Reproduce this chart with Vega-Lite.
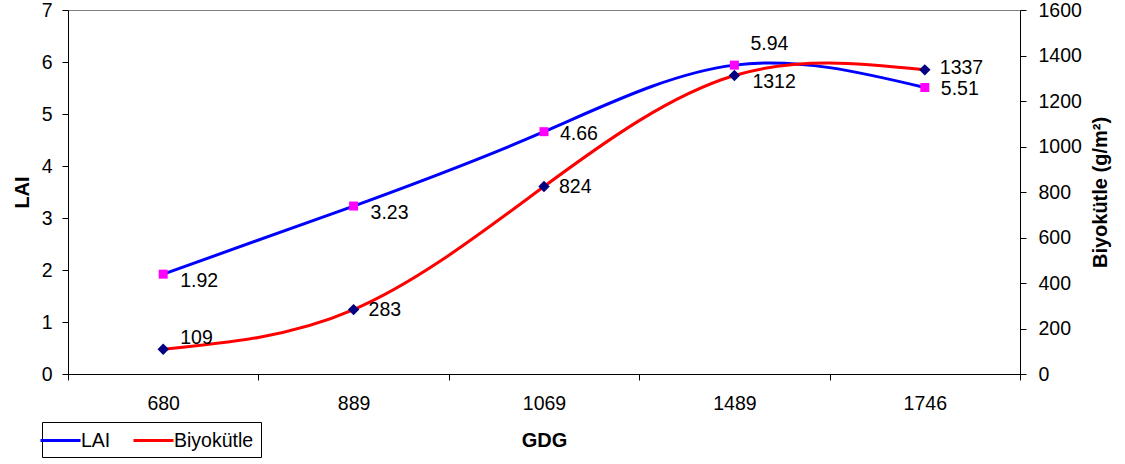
{
  "$schema": "https://vega.github.io/schema/vega-lite/v6.json",
  "width": 952,
  "height": 364,
  "autosize": {"type": "none"},
  "padding": {"left": 68, "top": 10, "right": 105, "bottom": 90},
  "config": {
    "font": "Liberation Sans",
    "view": {"stroke": "#808080", "strokeWidth": 1},
    "axis": {
      "domainColor": "black",
      "tickColor": "black",
      "labelColor": "black",
      "titleColor": "black",
      "labelFontSize": 19.5,
      "titleFontSize": 20,
      "titleFontWeight": "bold",
      "grid": false,
      "labelFont": "Liberation Sans",
      "titleFont": "Liberation Sans",
      "domainWidth": 1,
      "tickWidth": 1
    },
    "legend": {"labelFont": "Liberation Sans"}
  },
  "data": {
    "values": [
      {"GDG": "680", "LAI": 1.92, "Bio": 109},
      {"GDG": "889", "LAI": 3.23, "Bio": 283},
      {"GDG": "1069", "LAI": 4.66, "Bio": 824},
      {"GDG": "1489", "LAI": 5.94, "Bio": 1312},
      {"GDG": "1746", "LAI": 5.51, "Bio": 1337}
    ]
  },
  "encoding": {
    "x": {
      "field": "GDG",
      "type": "ordinal",
      "sort": null,
      "scale": {"type": "band", "paddingInner": 0, "paddingOuter": 0},
      "axis": {
        "title": "GDG",
        "labelAngle": 0,
        "tickBand": "extent",
        "tickSize": 6,
        "labelPadding": 14,
        "titlePadding": 18
      }
    }
  },
  "layer": [
    {
      "encoding": {
        "y": {
          "field": "LAI",
          "type": "quantitative",
          "scale": {"domain": [0, 7], "nice": false},
          "axis": {
            "title": "LAI",
            "values": [0, 1, 2, 3, 4, 5, 6, 7],
            "tickSize": 6,
            "labelPadding": 10,
            "titlePadding": 9
          }
        }
      },
      "layer": [
        {
          "mark": {"type": "line", "interpolate": "natural", "strokeWidth": 3},
          "encoding": {
            "color": {
              "datum": "LAI",
              "type": "nominal",
              "scale": {"domain": ["LAI", "Biyokütle"], "range": ["#0000FF", "#FF0000"]},
              "legend": {
                "title": null,
                "orient": "none",
                "legendX": -26,
                "legendY": 412,
                "direction": "horizontal",
                "symbolType": "M-2,0H2",
                "symbolSize": 400,
                "symbolStrokeWidth": 3,
                "labelFontSize": 19.5,
                "labelColor": "black",
                "labelOffset": 9,
                "columnPadding": 16,
                "padding": 7,
                "strokeColor": "black"
              }
            }
          }
        },
        {
          "mark": {"type": "point", "shape": "square", "filled": true, "size": 81, "color": "#FF00FF", "opacity": 1}
        },
        {
          "transform": [{"filter": {"field": "GDG", "oneOf": ["680", "889"]}}],
          "mark": {"type": "text", "align": "left", "baseline": "middle", "dx": 17, "dy": 7, "fontSize": 19.5, "color": "black"},
          "encoding": {"text": {"field": "LAI", "type": "quantitative", "format": ".2f"}}
        },
        {
          "transform": [{"filter": {"field": "GDG", "oneOf": ["1069", "1746"]}}],
          "mark": {"type": "text", "align": "left", "baseline": "middle", "dx": 16, "dy": 2, "fontSize": 19.5, "color": "black"},
          "encoding": {"text": {"field": "LAI", "type": "quantitative", "format": ".2f"}}
        },
        {
          "transform": [{"filter": {"field": "GDG", "oneOf": ["1489"]}}],
          "mark": {"type": "text", "align": "left", "baseline": "middle", "dx": 16, "dy": -21, "fontSize": 19.5, "color": "black"},
          "encoding": {"text": {"field": "LAI", "type": "quantitative", "format": ".2f"}}
        }
      ]
    },
    {
      "encoding": {
        "y": {
          "field": "Bio",
          "type": "quantitative",
          "scale": {"domain": [0, 1600], "nice": false},
          "axis": {
            "orient": "right",
            "title": "Biyokütle (g/m²)",
            "titleAngle": -90,
            "titleBaseline": "top",
            "values": [0, 200, 400, 600, 800, 1000, 1200, 1400, 1600],
            "format": "d",
            "tickSize": 6,
            "labelPadding": 12,
            "titlePadding": 9
          }
        }
      },
      "layer": [
        {
          "mark": {"type": "line", "interpolate": "natural", "strokeWidth": 3},
          "encoding": {"color": {"datum": "Biyokütle", "type": "nominal"}}
        },
        {
          "mark": {"type": "point", "shape": "diamond", "filled": true, "size": 130, "color": "#000080", "opacity": 1}
        },
        {
          "transform": [{"filter": {"field": "GDG", "oneOf": ["680"]}}],
          "mark": {"type": "text", "align": "left", "baseline": "middle", "dx": 17, "dy": -11, "fontSize": 19.5, "color": "black"},
          "encoding": {"text": {"field": "Bio", "type": "quantitative", "format": "d"}}
        },
        {
          "transform": [{"filter": {"field": "GDG", "oneOf": ["889", "1069"]}}],
          "mark": {"type": "text", "align": "left", "baseline": "middle", "dx": 15, "dy": 0, "fontSize": 19.5, "color": "black"},
          "encoding": {"text": {"field": "Bio", "type": "quantitative", "format": "d"}}
        },
        {
          "transform": [{"filter": {"field": "GDG", "oneOf": ["1746"]}}],
          "mark": {"type": "text", "align": "left", "baseline": "middle", "dx": 15, "dy": -2, "fontSize": 19.5, "color": "black"},
          "encoding": {"text": {"field": "Bio", "type": "quantitative", "format": "d"}}
        },
        {
          "transform": [{"filter": {"field": "GDG", "oneOf": ["1489"]}}],
          "mark": {"type": "text", "align": "left", "baseline": "middle", "dx": 18, "dy": 6, "fontSize": 19.5, "color": "black"},
          "encoding": {"text": {"field": "Bio", "type": "quantitative", "format": "d"}}
        }
      ]
    }
  ],
  "resolve": {"scale": {"y": "independent"}}
}
